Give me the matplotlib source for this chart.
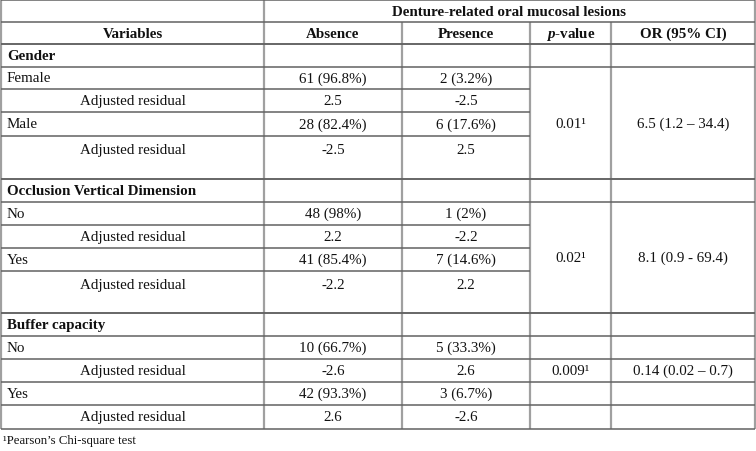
import matplotlib
matplotlib.use("Agg")
import matplotlib.pyplot as plt

plt.rcParams['font.family'] = ['Liberation Serif', 'DejaVu Serif']
plt.rcParams['mathtext.fontset'] = 'custom'
plt.rcParams['mathtext.it'] = 'Liberation Serif:italic:bold'
plt.rcParams['mathtext.rm'] = 'Liberation Serif:bold'
plt.rcParams['mathtext.bf'] = 'Liberation Serif:bold'

# ---------------- data ----------------
group_title = "Denture-related oral mucosal lesions"
col_headers = ["Variables", "Absence", "Presence", r"$p$-value", "OR (95% CI)"]
sections = ["Gender", "Occlusion Vertical Dimension", "Buffer capacity"]
levels = [["Female", "Male"], ["No", "Yes"], ["No", "Yes"]]
absence = [["61 (96.8%)", "28 (82.4%)"], ["48 (98%)", "41 (85.4%)"], ["10 (66.7%)", "42 (93.3%)"]]
absence_resid = [["2.5", "-2.5"], ["2.2", "-2.2"], ["-2.6", "2.6"]]
presence = [["2 (3.2%)", "6 (17.6%)"], ["1 (2%)", "7 (14.6%)"], ["5 (33.3%)", "3 (6.7%)"]]
presence_resid = [["-2.5", "2.5"], ["-2.2", "2.2"], ["2.6", "-2.6"]]
p_values = ["0.01\u00b9", "0.02\u00b9", "0.009\u00b9"]
odds_ratios = ["6.5 (1.2 \u2013 34.4)", "8.1 (0.9 - 69.4)", "0.14 (0.02 \u2013 0.7)"]
merged_stats = [True, True, False]
resid_label = "Adjusted residual"
footnote = "\u00b9Pearson\u2019s Chi-square test"

# ---------------- layout (pixels) ----------------
W, H = 756, 452
fig = plt.figure(figsize=(W / 100, H / 100), dpi=100)
ax = fig.add_axes([0, 0, 1, 1])
ax.set_xlim(0, W)
ax.set_ylim(H, 0)
ax.axis('off')

cols = [1, 264, 402, 530, 611, 755]
# row boundaries per section: header, lvl1, adj1, lvl2, adj2(bottom)
sec_rows = [[45, 68, 90, 113, 137, 180],
            [180, 203, 226, 249, 272, 314],
            [314, 337, 360, 383, 406, 430]]
tall_last = [True, True, False]

HC = '#626262'   # horizontal line color
VC = '#a0a0a0'   # vertical line color
LW_H = 1.1
LW_V = 1.6
FS = 10.8
TC = '#111111'

def hline(y, x0, x1):
    ax.plot([x0, x1], [y, y], color=HC, lw=LW_H, solid_capstyle='butt', zorder=2)

def vline(x, y0, y1):
    ax.plot([x, x], [y0, y1], color=VC, lw=LW_V, solid_capstyle='butt', zorder=1)

# horizontal lines
for y in [1, 23, 45]:
    hline(y, cols[0], cols[-1])
for si, rows in enumerate(sec_rows):
    hline(rows[0], cols[0], cols[-1])
    hline(rows[1], cols[0], cols[-1])
    xe = cols[3] if merged_stats[si] else cols[-1]
    for y in rows[2:5]:
        hline(y, cols[0], xe)
    hline(rows[5], cols[0], cols[-1])

# vertical lines
bottom = sec_rows[-1][-1]
for x in [cols[0], cols[1], cols[-1]]:
    vline(x, 1, bottom)
for x in cols[2:5]:
    vline(x, 23, bottom)

def ctext(x, y, s, bold=False, ha='center'):
    ax.text(x, y, s, ha=ha, va='center', fontsize=FS, color=TC,
            fontweight='bold' if bold else 'normal', zorder=3)

def cx(i):
    return (cols[i] + cols[i + 1]) / 2

# headers
ctext((cols[1] + cols[-1]) / 2, 12.5, group_title, bold=True)
for i, h in enumerate(col_headers):
    ctext(cx(i), 34.5, h, bold=True)

# body
for si, rows in enumerate(sec_rows):
    ctext(7, (rows[0] + rows[1]) / 2, sections[si], bold=True, ha='left')
    for li in range(2):
        top = rows[1 + 2 * li]
        mid = rows[2 + 2 * li]
        bot = rows[3 + 2 * li]
        yl = (top + mid) / 2
        ctext(7, yl, levels[si][li], ha='left')
        ctext(cx(1), yl, absence[si][li])
        ctext(cx(2), yl, presence[si][li])
        if li == 1 and tall_last[si]:
            ya = mid + 14
        else:
            ya = (mid + bot) / 2
        ctext(80, ya, resid_label, ha='left')
        ctext(cx(1), ya, absence_resid[si][li])
        ctext(cx(2), ya, presence_resid[si][li])
    if merged_stats[si]:
        ys = (rows[1] + rows[5]) / 2
    else:
        ys = (rows[2] + rows[3]) / 2
    ctext(cx(3), ys, p_values[si])
    ctext(cx(4), ys, odds_ratios[si])

ax.text(3, 441, footnote, ha='left', va='center', fontsize=9.2, color=TC)

fig.savefig("out.png", dpi=100, facecolor='white')
